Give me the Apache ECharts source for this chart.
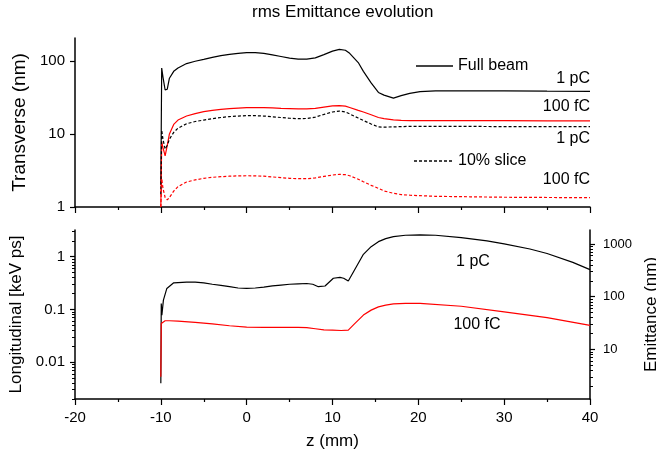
<!DOCTYPE html>
<html>
<head>
<meta charset="utf-8">
<script src="https://cdn.jsdelivr.net/npm/echarts@6/dist/echarts.min.js"></script>
<style>html,body{margin:0;padding:0;background:#fff}#c{width:656px;height:457px}</style>
</head>
<body>
<div id="c"></div>
<script>
// ---- Data ----
const zTop = [-10, -9.9, -9.75, -9.5, -9.25, -9, -8.5, -8, -7, -6, -5, -4, -3, -2, -1, 0, 1, 2, 3, 4, 5, 6, 7, 8, 9, 10, 10.8, 11.5, 12, 13, 13.6, 14.5, 15.35, 16, 17.1, 18, 19, 20.2, 22, 26, 30, 35, 40];
const fullBeam1pC = [2, 80, 60, 40, 41, 58, 72, 80, 92, 99, 105, 112, 118, 123, 127, 130, 130, 127, 121, 115, 109, 106, 106, 110, 122, 136, 144, 140, 127, 95, 72, 50, 37, 34, 31, 33.5, 36, 38, 38.8, 39, 38.8, 38.5, 38.3];
const fullBeam100fC = [1, 7.8, 6.5, 5.0, 7, 10, 13.5, 15.5, 17.6, 19, 20.2, 21, 21.7, 22.2, 22.6, 22.9, 23, 22.9, 22.7, 22.4, 22.2, 22, 22, 22.4, 23.3, 24.2, 24.5, 24, 23, 21, 20, 18.3, 16.8, 16.2, 15.6, 15.3, 15.2, 15.2, 15.2, 15.2, 15.2, 15.1, 15.1];
const slice1pC = [1.5, 11.3, 8.5, 6.2, 7, 8.5, 10.5, 12, 13.8, 14.8, 15.5, 16.2, 16.8, 17.3, 17.6, 17.8, 17.8, 17.6, 17.2, 16.8, 16.4, 16.2, 16.3, 17, 18.5, 20, 20.6, 20, 18.8, 16.5, 15.3, 13.7, 12.5, 12.4, 12.5, 12.6, 12.7, 12.7, 12.7, 12.7, 12.6, 12.6, 12.6];
const slice100fC = [1, 2.45, 1.8, 1.35, 1.25, 1.35, 1.65, 1.9, 2.2, 2.35, 2.47, 2.55, 2.6, 2.64, 2.67, 2.68, 2.67, 2.64, 2.58, 2.52, 2.47, 2.44, 2.44, 2.5, 2.62, 2.74, 2.8, 2.77, 2.68, 2.4, 2.22, 1.98, 1.8, 1.66, 1.54, 1.48, 1.45, 1.43, 1.4, 1.38, 1.36, 1.35, 1.34];

const zLong1pC = [-10, -9.95, -9.88, -9.7, -9.3, -8.5, -7, -6, -5, -4, -3, -2, -1, 0, 1, 2, 3, 4, 5, 6, 7, 7.7, 8.35, 9.13, 10.1, 10.87, 11.3, 11.84, 13.6, 14.5, 15.35, 16.2, 17.1, 18.5, 20.2, 22, 25, 28, 30, 33, 35, 38, 40];
const long1pC = [0.004, 0.13, 0.078, 0.15, 0.25, 0.32, 0.33, 0.33, 0.32, 0.30, 0.285, 0.27, 0.255, 0.25, 0.255, 0.265, 0.28, 0.29, 0.30, 0.305, 0.31, 0.30, 0.27, 0.278, 0.39, 0.405, 0.39, 0.345, 1.11, 1.55, 1.93, 2.2, 2.4, 2.55, 2.6, 2.55, 2.3, 2.0, 1.75, 1.4, 1.15, 0.78, 0.57];
const zLong100fC = [-10, -9.95, -9.8, -9.5, -9, -8, -6, -4, -2, 0, 2, 4, 6, 7, 8, 9, 10, 11, 11.84, 12.5, 13.6, 14.5, 15.35, 16.2, 17.1, 18.5, 20.2, 25, 30, 35, 40];
const long100fC = [0.0053, 0.054, 0.058, 0.061, 0.061, 0.06, 0.057, 0.053, 0.049, 0.046, 0.0455, 0.0455, 0.0455, 0.045, 0.043, 0.041, 0.0405, 0.0398, 0.0405, 0.052, 0.078, 0.097, 0.112, 0.121, 0.127, 0.13, 0.13, 0.115, 0.09, 0.07, 0.05];

const xTicks = [-20, 40];
const topYLabels = [1, 10, 100];
const botYLabels = [0.01, 0.1, 1];
const botYMinor = [0.002,0.003,0.004,0.005,0.006,0.007,0.008,0.009,0.02,0.03,0.04,0.05,0.06,0.07,0.08,0.09,0.2,0.3,0.4,0.5,0.6,0.7,0.8,0.9,2,3];
const rightLabels = [10, 100, 1000];
const rightMinor = [2,3,4,5,6,7,8,9,20,30,40,50,60,70,80,90,200,300,400,500,600,700,800,900];

const pairs = (xs, ys) => xs.map((x, i) => [x, ys[i]]);

const FONT = 'Liberation Sans, Arial, sans-serif';
const axisLineStyle = { color: '#000', width: 1.5 };

function xAxisDef(gridIndex, showLabels) {
  const a = {
    type: 'value', gridIndex, min: xTicks[0], max: xTicks[1], interval: 10,
    axisLine: { show: true, onZero: false, lineStyle: axisLineStyle },
    axisTick: { show: true, inside: false, length: 6, lineStyle: { color: '#000', width: 1.2 } },
    minorTick: { show: true, splitNumber: 2, length: 3, lineStyle: { color: '#000', width: 1.2 } },
    splitLine: { show: false },
    axisLabel: { show: showLabels, color: '#000', fontSize: 15, margin: 11, fontFamily: FONT }
  };
  if (showLabels) {
    a.name = 'z (mm)';
    a.nameLocation = 'middle';
    a.nameGap = 34;
    a.nameTextStyle = { fontSize: 17, color: '#000', fontFamily: FONT };
  }
  return a;
}

function logY(gridIndex, pos, min, max, extra) {
  return Object.assign({
    type: 'log', gridIndex, logBase: 10, min, max, position: pos,
    axisLine: { show: true, onZero: false, lineStyle: axisLineStyle },
    splitLine: { show: false }
  }, extra);
}

const noSymbol = { color: 'rgba(0,0,0,0)', borderWidth: 0, opacity: 0 };

const option = {
  animation: false,
  backgroundColor: '#fff',
  textStyle: { fontFamily: FONT },
  title: {
    text: 'rms Emittance evolution', left: 252, top: 4, padding: 0,
    textStyle: { fontSize: 17, fontWeight: 'normal', color: '#000', fontFamily: FONT }
  },
  legend: [
    { data: ['Full beam'], left: 415, top: 58, itemWidth: 37, itemHeight: 14, padding: 0, itemGap: 5,
      textStyle: { fontSize: 16, color: '#000', fontFamily: FONT }, lineStyle: { color: '#444' }, itemStyle: noSymbol },
    { data: ['10% slice'], left: 413, top: 153, itemWidth: 39, itemHeight: 14, padding: 0, itemGap: 5,
      textStyle: { fontSize: 16, color: '#000', fontFamily: FONT }, lineStyle: { color: '#444' }, itemStyle: noSymbol }
  ],
  grid: [
    { left: 75, top: 38, width: 515, height: 169, outerBoundsMode: 'none', containLabel: false },
    { left: 75, top: 230, width: 515, height: 169, outerBoundsMode: 'none', containLabel: false }
  ],
  xAxis: [xAxisDef(0, false), xAxisDef(1, true)],
  yAxis: [
    logY(0, 'left', 1, 206, {
      axisTick: { show: true, length: 5, customValues: topYLabels, lineStyle: { color: '#000', width: 1.2 } },
      axisLabel: { customValues: topYLabels, color: '#000', fontSize: 15, margin: 10, fontFamily: FONT, formatter: v => String(v) },
      name: 'Transverse (nm)', nameLocation: 'middle', nameRotate: 90, nameGap: 46,
      nameTextStyle: { fontSize: 19, color: '#000', fontFamily: FONT } }),
    logY(1, 'left', 0.002, 3.21, {
      axisTick: { show: true, length: 5, customValues: botYLabels, lineStyle: { color: '#000', width: 1.2 } },
      axisLabel: { customValues: botYLabels, color: '#000', fontSize: 15, margin: 10, fontFamily: FONT, formatter: v => String(v) },
      name: 'Longitudinal [keV ps]', nameLocation: 'middle', nameRotate: 90, nameGap: 48,
      nameTextStyle: { fontSize: 17, color: '#000', fontFamily: FONT } }),
    logY(1, 'left', 0.002, 3.21, {
      axisLine: { show: false, onZero: false },
      axisTick: { show: true, length: 3, customValues: botYMinor, lineStyle: { color: '#000', width: 1 } },
      axisLabel: { show: false } }),
    logY(1, 'right', 1.15, 1845, {
      axisTick: { show: true, length: 5, customValues: rightLabels, lineStyle: { color: '#000', width: 1.2 } },
      axisLabel: { customValues: rightLabels, color: '#000', fontSize: 13, margin: 13, fontFamily: FONT, formatter: v => String(v) },
      name: 'Emittance (nm)', nameLocation: 'middle', nameRotate: 90, nameGap: 49,
      nameTextStyle: { fontSize: 17, color: '#000', fontFamily: FONT } }),
    logY(1, 'right', 1.15, 1845, {
      axisLine: { show: false, onZero: false },
      axisTick: { show: true, length: 3, customValues: rightMinor, lineStyle: { color: '#000', width: 1 } },
      axisLabel: { show: false } })
  ],
  series: [
    { name: 'Full beam', type: 'line', xAxisIndex: 0, yAxisIndex: 0, data: pairs(zTop, fullBeam1pC),
      symbol: 'none', lineStyle: { color: '#000', width: 1.2 }, itemStyle: { color: '#000' } },
    { name: 'Full beam 100 fC', type: 'line', xAxisIndex: 0, yAxisIndex: 0, data: pairs(zTop, fullBeam100fC),
      symbol: 'none', lineStyle: { color: '#ff0000', width: 1.2 }, itemStyle: { color: '#ff0000' } },
    { name: '10% slice', type: 'line', xAxisIndex: 0, yAxisIndex: 0, data: pairs(zTop, slice1pC),
      symbol: 'none', lineStyle: { color: '#000', width: 1.2, type: [3, 2] }, itemStyle: { color: '#000' } },
    { name: '10% slice 100 fC', type: 'line', xAxisIndex: 0, yAxisIndex: 0, data: pairs(zTop, slice100fC),
      symbol: 'none', lineStyle: { color: '#ff0000', width: 1.2, type: [3, 2] }, itemStyle: { color: '#ff0000' } },
    { name: 'Longitudinal 1 pC', type: 'line', xAxisIndex: 1, yAxisIndex: 1, data: pairs(zLong1pC, long1pC),
      symbol: 'none', lineStyle: { color: '#000', width: 1.2 }, itemStyle: { color: '#000' } },
    { name: 'Longitudinal 100 fC', type: 'line', xAxisIndex: 1, yAxisIndex: 1, data: pairs(zLong100fC, long100fC),
      symbol: 'none', lineStyle: { color: '#ff0000', width: 1.2 }, itemStyle: { color: '#ff0000' } }
  ],
  graphic: [
    { type: 'text', x: 590, y: 79, style: { text: '1 pC', align: 'right', verticalAlign: 'middle', fontSize: 16, fontFamily: FONT, fill: '#000' } },
    { type: 'text', x: 590, y: 107, style: { text: '100 fC', align: 'right', verticalAlign: 'middle', fontSize: 16, fontFamily: FONT, fill: '#000' } },
    { type: 'text', x: 590, y: 139, style: { text: '1 pC', align: 'right', verticalAlign: 'middle', fontSize: 16, fontFamily: FONT, fill: '#000' } },
    { type: 'text', x: 590, y: 180, style: { text: '100 fC', align: 'right', verticalAlign: 'middle', fontSize: 16, fontFamily: FONT, fill: '#000' } },
    { type: 'text', x: 473, y: 262, style: { text: '1 pC', align: 'center', verticalAlign: 'middle', fontSize: 16, fontFamily: FONT, fill: '#000' } },
    { type: 'text', x: 477, y: 325, style: { text: '100 fC', align: 'center', verticalAlign: 'middle', fontSize: 16, fontFamily: FONT, fill: '#000' } }
  ]
};

const chart = echarts.init(document.getElementById('c'), null, { renderer: 'canvas' });
chart.setOption(option);
</script>
</body>
</html>
